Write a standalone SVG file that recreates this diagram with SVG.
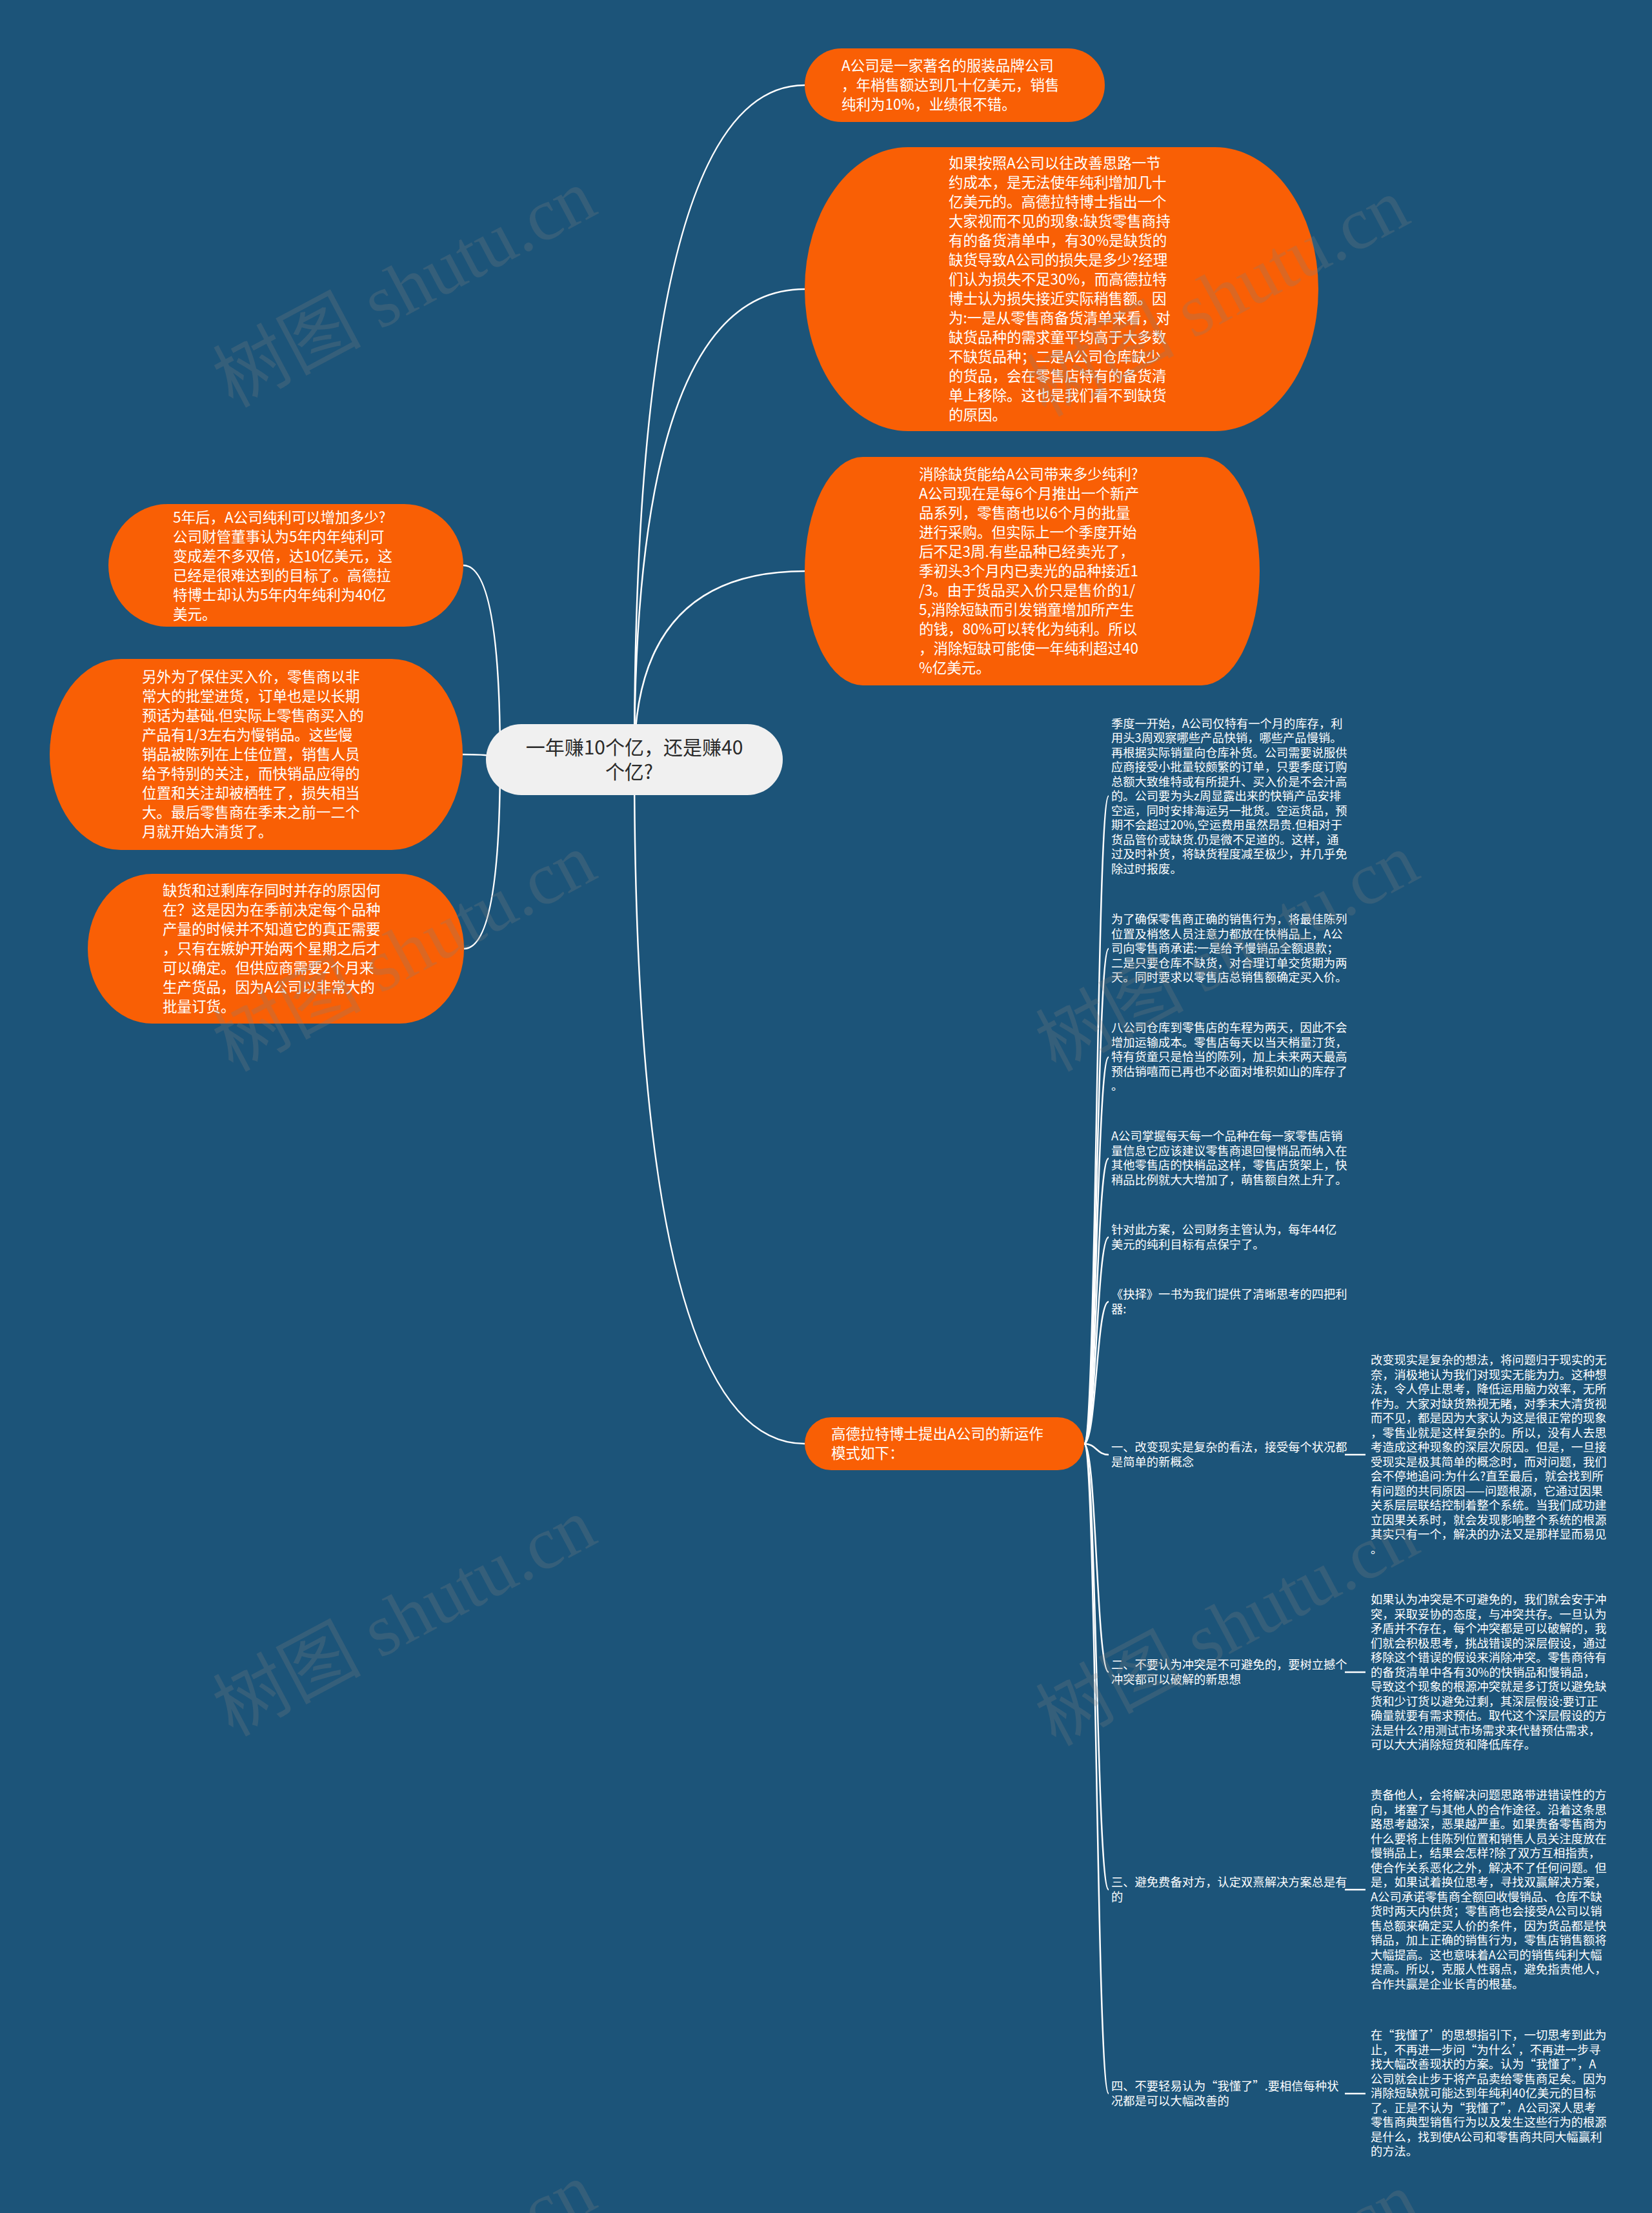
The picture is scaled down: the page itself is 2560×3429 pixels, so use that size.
<svg xmlns="http://www.w3.org/2000/svg" width="2560" height="3429" viewBox="0 0 2560 3429">
<style>
.bg{fill:#1c5479}
.node{fill:#f95f05}
.center{fill:#f0f0f0}
.t{font-family:"Noto Sans CJK SC","Liberation Sans",sans-serif;font-size:22.5px;fill:#ffffff}
.tc{font-family:"Noto Sans CJK SC","Liberation Sans",sans-serif;font-size:30px;fill:#2a2a2a}
.s{font-family:"Noto Sans CJK SC","Liberation Sans",sans-serif;font-size:18.3px;fill:#ffffff}
.link{fill:none;stroke:#ffffff;stroke-width:2.5}
.wm{font-family:"Liberation Serif","Noto Sans CJK SC",serif;font-size:115px;fill:#808080;fill-opacity:0.25}
</style>
<rect class="bg" x="0" y="0" width="2560" height="3429"/>

<g id="connectors">
  <path class="link" d="M983 1177 Q983 132 1247 132"/>
  <path class="link" d="M983 1177 Q983 448 1247 448"/>
  <path class="link" d="M983 1177 Q983 885 1247 885"/>
  <path class="link" d="M983 1177 Q983 2237 1247 2237"/>
  <path class="link" d="M775 1177 Q775 876 718 876"/>
  <path class="link" d="M775 1177 Q775 1169 717 1169"/>
  <path class="link" d="M775 1177 Q775 1470 719 1470"/>
  <path class="link" d="M1680 2237 C1699 2237 1699 1233.5 1718 1233.5"/>
  <path class="link" d="M1680 2237 C1699 2237 1699 1470 1718 1470"/>
  <path class="link" d="M1680 2237 C1699 2237 1699 1638 1718 1638"/>
  <path class="link" d="M1680 2237 C1699 2237 1699 1795 1718 1795"/>
  <path class="link" d="M1680 2237 C1699 2237 1699 1917 1718 1917"/>
  <path class="link" d="M1680 2237 C1699 2237 1699 2017 1718 2017"/>
  <path class="link" d="M1680 2237 C1699 2237 1699 2254 1718 2254"/>
  <path class="link" d="M1680 2237 C1699 2237 1699 2591 1718 2591"/>
  <path class="link" d="M1680 2237 C1699 2237 1699 2928 1718 2928"/>
  <path class="link" d="M1680 2237 C1699 2237 1699 3244 1718 3244"/>
  <path class="link" d="M2084 2254 L2116 2254"/>
  <path class="link" d="M2084 2591 L2116 2591"/>
  <path class="link" d="M2084 2928 L2116 2928"/>
  <path class="link" d="M2084 3244 L2116 3244"/>
</g>

<g id="center">
  <rect class="center" x="753" y="1122" width="460" height="110" rx="55" ry="55"/>
  <text class="tc" text-anchor="middle"><tspan x="983" y="1169">一年赚10个亿，还是赚40</tspan><tspan x="975" y="1207">个亿?</tspan></text>
</g>

<g id="n1">
  <rect class="node" x="1247" y="75" width="465" height="114" rx="57" ry="57"/>
  <text class="t" x="1304" y="110"><tspan x="1304">A公司是一家著名的服装品牌公司</tspan><tspan x="1304" dy="30">，年梢售额达到几十亿美元，销售</tspan><tspan x="1304" dy="30">纯利为10%，业绩很不错。</tspan></text>
</g>

<g id="n2">
  <rect class="node" x="1247" y="228" width="796" height="440" rx="160" ry="220"/>
  <text class="t" x="1470" y="261"><tspan x="1470">如果按照A公司以往改善思路一节</tspan><tspan x="1470" dy="30">约成本，是无法使年纯利增加几十</tspan><tspan x="1470" dy="30">亿美元的。高德拉特博士指出一个</tspan><tspan x="1470" dy="30">大家视而不见的现象:缺货零售商持</tspan><tspan x="1470" dy="30">有的备货清单中，有30%是缺货的</tspan><tspan x="1470" dy="30">缺货导致A公司的损失是多少?经理</tspan><tspan x="1470" dy="30">们认为损失不足30%，而高德拉特</tspan><tspan x="1470" dy="30">博士认为损失接近实际稍售额。因</tspan><tspan x="1470" dy="30">为:一是从零售商备货清单来看，对</tspan><tspan x="1470" dy="30">缺货品种的需求童平均高于大多数</tspan><tspan x="1470" dy="30">不缺货品种；二是A公司仓库缺少</tspan><tspan x="1470" dy="30">的货品，会在零售店特有的备货清</tspan><tspan x="1470" dy="30">单上移除。这也是我们看不到缺货</tspan><tspan x="1470" dy="30">的原因。</tspan></text>
</g>

<g id="n3">
  <rect class="node" x="1247" y="708" width="705" height="354" rx="90" ry="177"/>
  <text class="t" x="1424" y="743"><tspan x="1424">消除缺货能给A公司带来多少纯利?</tspan><tspan x="1424" dy="30">A公司现在是每6个月推出一个新产</tspan><tspan x="1424" dy="30">品系列，零售商也以6个月的批量</tspan><tspan x="1424" dy="30">进行采购。但实际上一个季度开始</tspan><tspan x="1424" dy="30">后不足3周.有些品种已经卖光了，</tspan><tspan x="1424" dy="30">季初头3个月内已卖光的品种接近1</tspan><tspan x="1424" dy="30">/3。由于货品买入价只是售价的1/</tspan><tspan x="1424" dy="30">5,消除短缺而引发销童增加所产生</tspan><tspan x="1424" dy="30">的钱，80%可以转化为纯利。所以</tspan><tspan x="1424" dy="30">，消除短缺可能使一年纯利超过40</tspan><tspan x="1424" dy="30">%亿美元。</tspan></text>
</g>

<g id="l1">
  <rect class="node" x="168" y="781" width="550" height="190" rx="92" ry="95"/>
  <text class="t" x="268" y="810"><tspan x="268">5年后，A公司纯利可以增加多少?</tspan><tspan x="268" dy="30">公司财管董事认为5年内年纯利可</tspan><tspan x="268" dy="30">变成差不多双倍，达10亿美元，这</tspan><tspan x="268" dy="30">已经是很难达到的目标了。高德拉</tspan><tspan x="268" dy="30">特博士却认为5年内年纯利为40亿</tspan><tspan x="268" dy="30">美元。</tspan></text>
</g>

<g id="l2">
  <rect class="node" x="77" y="1021" width="640" height="296" rx="110" ry="148"/>
  <text class="t" x="220" y="1057"><tspan x="220">另外为了保住买入价，零售商以非</tspan><tspan x="220" dy="30">常大的批堂进货，订单也是以长期</tspan><tspan x="220" dy="30">预话为基础.但实际上零售商买入的</tspan><tspan x="220" dy="30">产品有1/3左右为慢销品。这些慢</tspan><tspan x="220" dy="30">销品被陈列在上佳位置，销售人员</tspan><tspan x="220" dy="30">给予特别的关注，而快销品应得的</tspan><tspan x="220" dy="30">位置和关注却被栖牲了，损失相当</tspan><tspan x="220" dy="30">大。最后零售商在季末之前一二个</tspan><tspan x="220" dy="30">月就开始大清货了。</tspan></text>
</g>

<g id="l3">
  <rect class="node" x="136" y="1354" width="583" height="232" rx="100" ry="116"/>
  <text class="t" x="252" y="1388"><tspan x="252">缺货和过剩库存同时并存的原因何</tspan><tspan x="252" dy="30">在？这是因为在季前决定每个品种</tspan><tspan x="252" dy="30">产量的时候并不知道它的真正需要</tspan><tspan x="252" dy="30">，只有在嫉妒开始两个星期之后才</tspan><tspan x="252" dy="30">可以确定。但供应商需要2个月来</tspan><tspan x="252" dy="30">生产货品，因为A公司以非常大的</tspan><tspan x="252" dy="30">批量订货。</tspan></text>
</g>

<g id="gdlt">
  <rect class="node" x="1247" y="2196" width="433" height="82" rx="41" ry="41"/>
  <text class="t" x="1288" y="2230"><tspan x="1288">高德拉特博士提出A公司的新运作</tspan><tspan x="1288" dy="30">模式如下：</tspan></text>
</g>

<g id="c1">
  <text class="s" x="1722" y="1127.5"><tspan x="1722">季度一开始，A公司仅特有一个月的库存，利</tspan><tspan x="1722" dy="22.5">用头3周观察哪些产品快销，哪些产品慢销。</tspan><tspan x="1722" dy="22.5">再根据实际销量向仓库补货。公司需要说服供</tspan><tspan x="1722" dy="22.5">应商接受小批量较颇繁的订单，只要季度订购</tspan><tspan x="1722" dy="22.5">总额大致维特或有所提升、买入价是不会汁高</tspan><tspan x="1722" dy="22.5">的。公司要为头z周显露出来的快销产品安排</tspan><tspan x="1722" dy="22.5">空运，同时安排海运另一批货。空运货品，预</tspan><tspan x="1722" dy="22.5">期不会超过20%,空运费用虽然昂贵.但相对于</tspan><tspan x="1722" dy="22.5">货品管价或缺货.仍是微不足道的。这样，通</tspan><tspan x="1722" dy="22.5">过及时补货，将缺货程度减至极少，并几乎免</tspan><tspan x="1722" dy="22.5">除过时报废。</tspan></text>
</g>

<g id="c2">
  <text class="s" x="1722" y="1431"><tspan x="1722">为了确保零售商正确的销售行为，将最佳陈列</tspan><tspan x="1722" dy="22.5">位置及梢悠人员注意力都放在快梢品上，A公</tspan><tspan x="1722" dy="22.5">司向零售商承诺:一是给予慢销品全额退款；</tspan><tspan x="1722" dy="22.5">二是只要仓库不缺货，对合理订单交货期为两</tspan><tspan x="1722" dy="22.5">天。同时要求以零售店总销售额确定买入价。</tspan></text>
</g>

<g id="c3">
  <text class="s" x="1722" y="1599"><tspan x="1722">八公司仓库到零售店的车程为两天，因此不会</tspan><tspan x="1722" dy="22.5">增加运输成本。零售店每天以当天梢量汀货，</tspan><tspan x="1722" dy="22.5">特有货童只是恰当的陈列，加上未来两天最高</tspan><tspan x="1722" dy="22.5">预估销嘻而已再也不必面对堆积如山的库存了</tspan><tspan x="1722" dy="22.5">。</tspan></text>
</g>

<g id="c4">
  <text class="s" x="1722" y="1767"><tspan x="1722">A公司掌握每天每一个品种在每一家零售店销</tspan><tspan x="1722" dy="22.5">量信息它应该建议零售商退回慢悄品而纳入在</tspan><tspan x="1722" dy="22.5">其他零售店的快梢品这样，零售店货架上，快</tspan><tspan x="1722" dy="22.5">稍品比例就大大增加了，萌售额自然上升了。</tspan></text>
</g>

<g id="c5">
  <text class="s" x="1722" y="1912"><tspan x="1722">针对此方案，公司财务主管认为，每年44亿</tspan><tspan x="1722" dy="22.5">美元的纯利目标有点保宁了。</tspan></text>
</g>

<g id="c6">
  <text class="s" x="1722" y="2012"><tspan x="1722">《抉择》一书为我们提供了清晰思考的四把利</tspan><tspan x="1722" dy="22.5">器:</tspan></text>
</g>

<g id="c7">
  <text class="s" x="1722" y="2249"><tspan x="1722">一、改变现实是复杂的看法，接受每个状况都</tspan><tspan x="1722" dy="22.5">是简单的新概念</tspan></text>
</g>
<g id="c7a">
  <text class="s" x="2124" y="2114"><tspan x="2124">改变现实是复杂的想法，将问题归于现实的无</tspan><tspan x="2124" dy="22.5">奈，消极地认为我们对现实无能为力。这种想</tspan><tspan x="2124" dy="22.5">法，令人停止思考，降低运用脑力效率，无所</tspan><tspan x="2124" dy="22.5">作为。大家对缺货熟视无睹，对季末大清货视</tspan><tspan x="2124" dy="22.5">而不见，都是因为大家认为这是很正常的现象</tspan><tspan x="2124" dy="22.5">，零售业就是这样复杂的。所以，没有人去思</tspan><tspan x="2124" dy="22.5">考造成这种现象的深层次原因。但是，一旦接</tspan><tspan x="2124" dy="22.5">受现实是极其简单的概念时，而对问题，我们</tspan><tspan x="2124" dy="22.5">会不停地追问:为什么?直至最后，就会找到所</tspan><tspan x="2124" dy="22.5">有问题的共同原因——问题根源，它通过因果</tspan><tspan x="2124" dy="22.5">关系层层联结控制着整个系统。当我们成功建</tspan><tspan x="2124" dy="22.5">立因果关系时，就会发现影响整个系统的根源</tspan><tspan x="2124" dy="22.5">其实只有一个，解决的办法又是那样显而易见</tspan><tspan x="2124" dy="22.5">。</tspan></text>
</g>

<g id="c8">
  <text class="s" x="1722" y="2586"><tspan x="1722">二、不要认为冲突是不可避免的，要树立撼个</tspan><tspan x="1722" dy="22.5">冲突都可以破解的新思想</tspan></text>
</g>
<g id="c8a">
  <text class="s" x="2124" y="2485"><tspan x="2124">如果认为冲突是不可避免的，我们就会安于冲</tspan><tspan x="2124" dy="22.5">突，采取妥协的态度，与冲突共存。一旦认为</tspan><tspan x="2124" dy="22.5">矛盾并不存在，每个冲突都是可以破解的，我</tspan><tspan x="2124" dy="22.5">们就会积极思考，挑战错误的深层假设，通过</tspan><tspan x="2124" dy="22.5">移除这个错误的假设来消除冲突。零售商待有</tspan><tspan x="2124" dy="22.5">的备货清单中各有30%的快销品和慢销品，</tspan><tspan x="2124" dy="22.5">导致这个现象的根源冲突就是多订货以避免缺</tspan><tspan x="2124" dy="22.5">货和少订货以避免过剩，其深层假设:要订正</tspan><tspan x="2124" dy="22.5">确量就要有需求预估。取代这个深层假设的方</tspan><tspan x="2124" dy="22.5">法是什么?用测试市场需求来代替预估需求，</tspan><tspan x="2124" dy="22.5">可以大大消除短货和降低库存。</tspan></text>
</g>

<g id="c9">
  <text class="s" x="1722" y="2923"><tspan x="1722">三、避免费备对方，认定双熹解决方案总是有</tspan><tspan x="1722" dy="22.5">的</tspan></text>
</g>
<g id="c9a">
  <text class="s" x="2124" y="2788"><tspan x="2124">责备他人，会将解决问题思路带进错误性的方</tspan><tspan x="2124" dy="22.5">向，堵塞了与其他人的合作途径。沿着这条思</tspan><tspan x="2124" dy="22.5">路思考越深，恶果越严重。如果责备零售商为</tspan><tspan x="2124" dy="22.5">什么要将上佳陈列位置和销售人员关注度放在</tspan><tspan x="2124" dy="22.5">慢销品上，结果会怎样?除了双方互相指责，</tspan><tspan x="2124" dy="22.5">使合作关系恶化之外，解决不了任何问题。但</tspan><tspan x="2124" dy="22.5">是，如果试着换位思考，寻找双赢解决方案，</tspan><tspan x="2124" dy="22.5">A公司承诺零售商全额回收慢销品、仓库不缺</tspan><tspan x="2124" dy="22.5">货时两天内供货；零售商也会接受A公司以销</tspan><tspan x="2124" dy="22.5">售总额来确定买人价的条件，因为货品都是快</tspan><tspan x="2124" dy="22.5">销品，加上正确的销售行为，零售店销售额将</tspan><tspan x="2124" dy="22.5">大幅提高。这也意味着A公司的销售纯利大幅</tspan><tspan x="2124" dy="22.5">提高。所以，克服人性弱点，避免指责他人，</tspan><tspan x="2124" dy="22.5">合作共赢是企业长青的根基。</tspan></text>
</g>

<g id="c10">
  <text class="s" x="1722" y="3239"><tspan x="1722">四、不要轻易认为“我懂了”.要相信每种状</tspan><tspan x="1722" dy="22.5">况都是可以大幅改善的</tspan></text>
</g>
<g id="c10a">
  <text class="s" x="2124" y="3160"><tspan x="2124">在“我懂了’的思想指引下，一切思考到此为</tspan><tspan x="2124" dy="22.5">止，不再进一步问“为什么’，不再进一步寻</tspan><tspan x="2124" dy="22.5">找大幅改善现状的方案。认为“我懂了”，A</tspan><tspan x="2124" dy="22.5">公司就会止步于将产品卖给零售商足矣。因为</tspan><tspan x="2124" dy="22.5">消除短缺就可能达到年纯利40亿美元的目标</tspan><tspan x="2124" dy="22.5">了。正是不认为“我懂了”，A公司深人思考</tspan><tspan x="2124" dy="22.5">零售商典型销售行为以及发生这些行为的根源</tspan><tspan x="2124" dy="22.5">是什么，找到使A公司和零售商共同大幅赢利</tspan><tspan x="2124" dy="22.5">的方法。</tspan></text>
</g>

<g id="watermark">
  <text class="wm" text-anchor="middle" transform="translate(645 481) rotate(-28)">树图 shutu.cn</text>
  <text class="wm" text-anchor="middle" transform="translate(1905 495) rotate(-28)">树图 shutu.cn</text>
  <text class="wm" text-anchor="middle" transform="translate(645 1510) rotate(-28)">树图 shutu.cn</text>
  <text class="wm" text-anchor="middle" transform="translate(1920 1510) rotate(-28)">树图 shutu.cn</text>
  <text class="wm" text-anchor="middle" transform="translate(645 2540) rotate(-28)">树图 shutu.cn</text>
  <text class="wm" text-anchor="middle" transform="translate(1920 2555) rotate(-28)">树图 shutu.cn</text>
  <text class="wm" text-anchor="middle" transform="translate(645 3570) rotate(-28)">树图 shutu.cn</text>
  <text class="wm" text-anchor="middle" transform="translate(1920 3585) rotate(-28)">树图 shutu.cn</text>
</g>
</svg>
